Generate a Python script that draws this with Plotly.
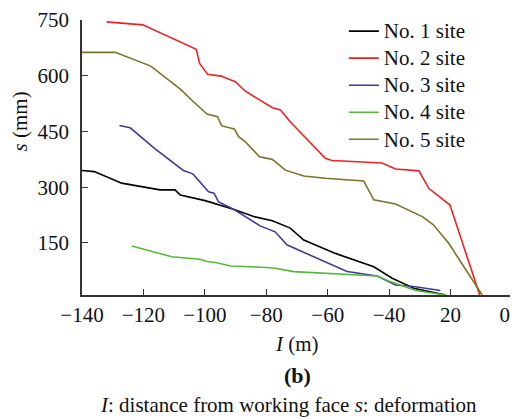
import plotly.graph_objects as go

site1_x = [-140, -136, -127.1, -114.6, -109.7, -108, -99.9, -90.7, -84.1, -78, -72.2, -67.8, -57.5, -45, -39, -32, -21.6]
site1_y = [345, 342, 311, 293, 293, 279, 264, 241, 221, 210, 190, 158, 122, 86, 55, 28, 10]

site2_x = [-132, -120.2, -102.8, -101.7, -99.1, -94.7, -90.1, -86.9, -83, -78, -75.4, -72.2, -60.8, -58.6, -42.3, -37.9, -30.3, -27.1, -20.2, -10.5]
site2_y = [745, 737, 671, 633, 604, 599, 584, 559, 539, 514, 508, 476, 378, 372, 365, 349, 344, 297, 252, 10]

site3_x = [-127.8, -124.3, -116.2, -112.4, -107, -103.9, -98.8, -97, -95.6, -90.7, -82, -77.1, -73.3, -53.7, -43.9, -37.9, -32, -23.3]
site3_y = [466, 460, 403, 378, 345, 336, 288, 284, 261, 241, 196, 180, 145, 73, 61, 37, 33, 22]

site4_x = [-123.8, -110.8, -101.5, -99.3, -96.1, -91.7, -79.8, -77.1, -71.1, -43.9, -39.6, -31.4, -21.6]
site4_y = [142, 113, 106, 100, 97, 88, 84, 82, 73, 61, 46, 22, 10]

site5_x = [-140, -129.2, -117.6, -108, -103.7, -99.3, -95.9, -94.5, -90.4, -89, -86.9, -82.2, -78.1, -77.1, -73.8, -67.8, -60.8, -48.3, -45, -37.9, -29.2, -25.6, -20.6, -9.7]
site5_y = [663, 663, 626, 564, 530, 497, 490, 465, 457, 436, 423, 382, 375, 369, 346, 330, 324, 317, 266, 255, 221, 199, 149, 10]

names = ["No. 1 site", "No. 2 site", "No. 3 site", "No. 4 site", "No. 5 site"]
colors = ["#000000", "#ee2222", "#3c3c9c", "#55b83a", "#7a7526"]
xs = [site1_x, site2_x, site3_x, site4_x, site5_x]
ys = [site1_y, site2_y, site3_y, site4_y, site5_y]

x_tickvals = [-140, -120, -100, -80, -60, -40, -20, 0]
x_ticktext = ["\u2212140", "\u2212120", "\u2212100", "\u221280", "\u221260", "\u221240", "20", "0\u2002\u2009"]
y_tickvals = [150, 300, 450, 600, 750]

FONT = "Liberation Serif"

fig = go.Figure()
for x, y, n, c in zip(xs, ys, names, colors):
    fig.add_trace(go.Scatter(x=x, y=y, mode="lines",
                             name='<span style="font-size:21px">' + n + '</span>',
                             line=dict(color=c, width=1.6)))

fig.update_layout(
    width=510, height=411,
    margin=dict(l=74, r=6, t=12, b=124, autoexpand=False),
    paper_bgcolor="white", plot_bgcolor="white",
    font=dict(family=FONT, size=21, color="#111111"),
    showlegend=True,
    legend=dict(x=0.609, y=1.027, xanchor="left", yanchor="top",
                bgcolor="rgba(0,0,0,0)", font=dict(size=18.5, family=FONT),
                tracegroupgap=0),
    xaxis=dict(range=[-140, 0], tickvals=x_tickvals, ticktext=x_ticktext,
               showgrid=False, zeroline=False, showline=True, linecolor="#333333",
               linewidth=1.5, ticks="inside", ticklen=6, tickcolor="#333333",
               automargin=False, ticklabeloverflow="allow",
               tickfont=dict(size=21, family=FONT)),
    yaxis=dict(range=[10, 750], tickvals=y_tickvals,
               showgrid=False, zeroline=False, showline=True, linecolor="#333333",
               linewidth=1.5, ticks="inside", ticklen=6, tickcolor="#333333",
               automargin=False, ticklabelstandoff=7,
               tickfont=dict(size=21, family=FONT)),
)

fig.add_annotation(text="<i>s</i> (mm)", xref="paper", yref="paper", x=-0.145, y=0.63,
                   xanchor="center", yanchor="middle", textangle=-90, showarrow=False,
                   font=dict(size=21, family=FONT))
fig.add_annotation(text="<i>I</i> (m)", xref="paper", yref="paper", x=0.5, y=-0.178,
                   xanchor="center", yanchor="middle", showarrow=False,
                   font=dict(size=21, family=FONT))
fig.add_annotation(text="<b>(b)</b>", xref="paper", yref="paper", x=0.5, y=-0.292,
                   xanchor="center", yanchor="middle", showarrow=False,
                   font=dict(size=22, family=FONT))
fig.add_annotation(text="<i>I</i>: distance from working face <i>s</i>: deformation",
                   xref="paper", yref="paper", x=0.481, y=-0.4,
                   xanchor="center", yanchor="middle", showarrow=False,
                   font=dict(size=21, family=FONT))

fig.write_html("out.html")
